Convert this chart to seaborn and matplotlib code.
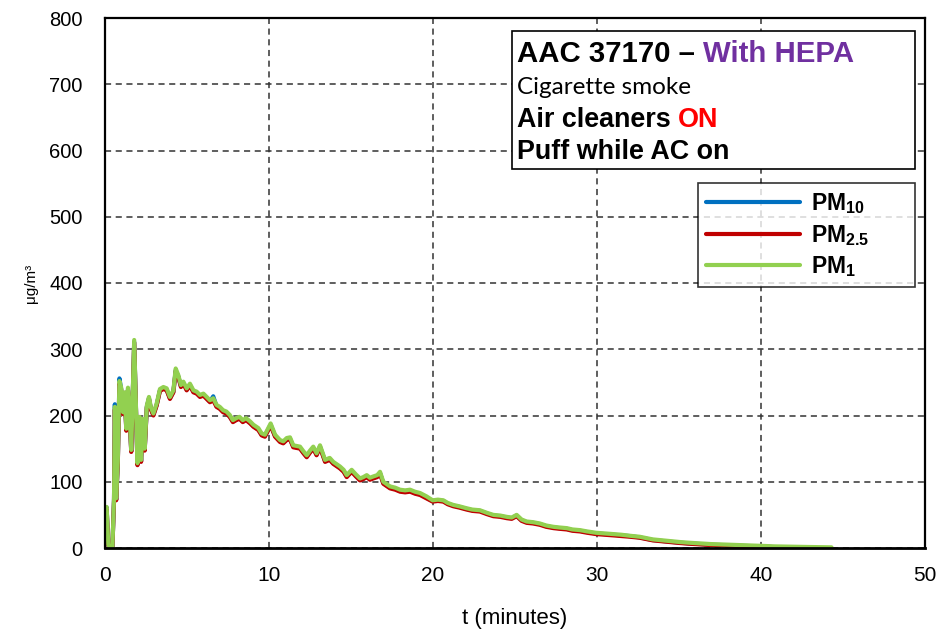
import numpy as np
import pandas as pd
import matplotlib
matplotlib.use("Agg")
import matplotlib.pyplot as plt
from matplotlib.lines import Line2D
from matplotlib.patches import Rectangle
import seaborn as sns

nan = np.nan

# Elapsed time since the first puff (minutes)
t_minutes = [
    0.0, 0.1, 0.2, 0.3, 0.45, 0.55, 0.6, 0.68, 0.78, 0.88,
    0.98, 1.1, 1.2, 1.3, 1.4, 1.5, 1.6, 1.78, 1.88, 1.98,
    2.1, 2.2, 2.3, 2.42, 2.55, 2.68, 2.8, 2.95, 3.15, 3.35,
    3.56, 3.76, 3.96, 4.17, 4.31, 4.47, 4.63, 4.78, 4.98, 5.18,
    5.39, 5.59, 5.79, 6.0, 6.2, 6.4, 6.6, 6.8, 7.0, 7.2,
    7.4, 7.6, 7.8, 8.0, 8.2, 8.4, 8.6, 8.85, 9.05, 9.35,
    9.55, 9.75, 9.96, 10.1, 10.37, 10.67, 10.87, 11.08, 11.28, 11.48,
    11.89, 12.1, 12.3, 12.5, 12.7, 12.9, 13.11, 13.42, 13.7, 13.92,
    14.1, 14.33, 14.55, 14.74, 15.04, 15.3, 15.55, 15.75, 15.96, 16.15,
    16.36, 16.6, 16.77, 16.97, 17.2, 17.38, 17.7, 17.99, 18.3, 18.6,
    18.9, 19.21, 19.6, 19.98, 20.3, 20.63, 20.9, 21.24, 21.6, 22.05,
    22.4, 22.86, 23.3, 23.68, 24.1, 24.5, 24.8, 25.1, 25.4, 25.71,
    26.1, 26.52, 26.9, 27.34, 27.7, 28.15, 28.5, 28.96, 29.4, 29.94,
    30.5, 31.0, 31.5, 32.0, 32.6, 33.0, 33.4, 33.8, 34.25, 34.6,
    35.06, 35.6, 36.3, 36.9, 37.5, 38.1, 38.7, 39.3, 39.9, 40.3,
    40.7, 41.3, 41.9, 42.5, 43.1, 43.7, 44.3,
]

# Mass concentrations (ug/m3)
pm1 = [
    58, 62, 5, 0, 0, 75, 213, 75, 130, 252,
    243, 205, 235, 180, 242, 200, 148, 314, 222, 128,
    198, 133, 195, 150, 215, 228, 212, 203, 218, 240,
    243, 241, 228, 238, 271, 261, 246, 251, 241, 248,
    238, 236, 231, 233, 228, 223, 226, 216, 213, 208,
    206, 201, 193, 196, 198, 193, 196, 191, 186, 181,
    173, 171, 181, 188, 171, 163, 161, 166, 167, 155,
    153, 146, 140, 147, 153, 143, 155, 133, 136, 130,
    127, 123, 118, 110, 118, 111, 105, 107, 110, 106,
    108, 110, 115, 100, 96, 93, 91, 88, 87, 88,
    85, 83, 78, 72, 73, 72, 68, 65, 63, 60,
    58, 57, 53, 50, 49, 47, 46, 50, 43, 40,
    39, 37, 34, 32, 31, 30, 28, 27, 25, 23,
    22, 21, 20, 18.5, 17, 15, 13, 12, 11, 10,
    9, 8, 7, 6, 5.5, 5, 4.5, 4, 3.5, 3,
    2.5, 2.2, 2, 1.7, 1.5, 1.2, 1,
]

pm25 = [
    56, 60, 4, 0, 0, 72, 209, 72, 127, 248,
    240, 202, 232, 177, 238, 197, 145, 310, 218, 125,
    195, 130, 192, 147, 212, 225, 209, 200, 215, 237,
    240, 238, 225, 235, 267, 258, 243, 248, 238, 245,
    235, 233, 228, 230, 225, 220, 223, 213, 210, 205,
    203, 198, 190, 193, 195, 190, 193, 188, 183, 178,
    170, 168, 178, 185, 168, 160, 158, 163, 164, 152,
    150, 143, 137, 144, 150, 140, 152, 130, 133, 127,
    124, 120, 115, 107, 115, 108, 102, 104, 107, 103,
    105, 107, 112, 97, 93, 90, 88, 85, 84, 85,
    82, 80, 75, 70, 71, 70, 66, 63, 61, 58,
    56, 55, 51, 48, 47, 45, 44, 48, 41, 38,
    37, 35, 32, 30, 29, 28, 26, 25, 23, 21,
    20, 19, 18, 17, 15.5, 13.5, 11.5, 10.5, 9.5, 8.5,
    7.5, 6.5, 5.5, 4.5, 4, 3.5, 3, 2.5, 2, 1.5,
    1.2, 0.8, 0.5, nan, nan, nan, nan,
]

pm10 = [
    57, 61, 4, 0, 0, 73, 217, 73, 128, 256,
    241, 203, 233, 178, 239, 198, 146, 311, 219, 126,
    196, 131, 193, 148, 213, 226, 210, 201, 216, 238,
    241, 239, 226, 236, 268, 259, 244, 249, 239, 246,
    236, 234, 229, 231, 226, 221, 229, 214, 211, 206,
    204, 199, 191, 194, 196, 191, 194, 189, 184, 179,
    171, 169, 179, 186, 169, 161, 159, 164, 165, 153,
    151, 144, 138, 145, 151, 141, 153, 131, 134, 128,
    125, 121, 116, 108, 116, 109, 103, 105, 108, 104,
    106, 108, 113, 98, 94, 91, 89, 86, 85, 86,
    83, 81, 76, 71, 72, 71, 67, 64, 62, 59,
    57, 56, 52, 49, 48, 46, 45, 49, 42, 39,
    38, 36, 33, 31, 30, 29, 27, 26, 24, 22,
    21, 20, 19, 18, 16, 14, 12, 11, 10, 9,
    8, 7, 6, 5, 4.5, 4, 3.5, 3, 2.5, 2,
    1.5, 1, nan, nan, nan, nan, nan,
]

series_names = ["PM10", "PM2.5", "PM1"]
series_labels = [r"$\mathbf{PM}_{\mathbf{10}}$",
                 r"$\mathbf{PM}_{\mathbf{2.5}}$",
                 r"$\mathbf{PM}_{\mathbf{1}}$"]
series_colors = ["#0070C0", "#C00000", "#92D050"]

x_ticks = [0, 10, 20, 30, 40, 50]
y_ticks = [0, 100, 200, 300, 400, 500, 600, 700, 800]

sns.set_style("white")
plt.rcParams["font.family"] = ["Liberation Sans", "DejaVu Sans"]
plt.rcParams["text.color"] = "black"
plt.rcParams["axes.labelcolor"] = "black"
plt.rcParams["xtick.color"] = "black"
plt.rcParams["ytick.color"] = "black"
plt.rcParams["mathtext.fontset"] = "custom"
plt.rcParams["mathtext.rm"] = "Liberation Sans"
plt.rcParams["mathtext.bf"] = "Liberation Sans:bold"

df = pd.DataFrame({"t": t_minutes, "PM10": pm10, "PM2.5": pm25, "PM1": pm1})
long_df = df.melt(id_vars="t", var_name="series", value_name="conc").dropna()

fig = plt.figure(figsize=(9.4, 6.36), dpi=100)
ax = fig.add_axes([105 / 940, 1 - 548 / 636, 820 / 940, 530 / 636])

sns.lineplot(data=long_df, x="t", y="conc", hue="series", hue_order=series_names,
             palette=series_colors, estimator=None, errorbar=None, sort=True,
             linewidth=3.0, legend=False, ax=ax)

ax.set_xlim(0, 50)
ax.set_ylim(0, 800)
ax.set_xticks(x_ticks)
ax.set_yticks(y_ticks)
ax.grid(True, linestyle=(0, (4, 3)), color="#333333", linewidth=1.1)
for side in ["left", "right", "top", "bottom"]:
    ax.spines[side].set_visible(True)
    ax.spines[side].set_color("black")
    ax.spines[side].set_linewidth(1.6)
ax.spines["bottom"].set_linewidth(2.0)

ax.tick_params(axis="y", length=0, pad=16, labelsize=14.5, labelcolor="black")
ax.tick_params(axis="x", length=0, pad=13, labelsize=15, labelcolor="black")

ax.set_xlabel("t (minutes)", fontsize=16, color="black")
ax.xaxis.set_label_coords(0.5, -0.113)
ax.set_ylabel("μg/m³", fontsize=11, color="black")
ax.yaxis.set_label_coords(-0.082, 0.5)

# Info box
ax.add_patch(Rectangle((0.496, 0.715), 0.492, 0.261, transform=ax.transAxes,
                       facecolor="white", edgecolor="black", linewidth=1.2, zorder=5))
x0 = 0.502
t1 = ax.text(x0, 0.9175, "AAC 37170 – ", transform=ax.transAxes, fontsize=21.2,
             fontweight="bold", va="baseline", ha="left", color="black", zorder=6)
ax.annotate("With HEPA", xy=(1, 0), xycoords=t1, va="bottom", ha="left",
            fontsize=21.2, fontweight="bold", color="#7030A0", zorder=6)
ax.text(x0, 0.8566, "Cigarette smoke", transform=ax.transAxes, fontsize=17.5,
        family=["Lato", "Liberation Sans"], va="baseline", ha="left",
        color="black", zorder=6)
t3 = ax.text(x0, 0.795, "Air cleaners ", transform=ax.transAxes, fontsize=19.4,
             fontweight="bold", va="baseline", ha="left", color="black", zorder=6)
ax.annotate("ON", xy=(1, 0), xycoords=t3, va="bottom", ha="left",
            fontsize=19.4, fontweight="bold", color="#FF0000", zorder=6)
ax.text(x0, 0.7334, "Puff while AC on", transform=ax.transAxes, fontsize=19.4,
        fontweight="bold", va="baseline", ha="left", color="black", zorder=6)

# Legend
handles = [Line2D([], [], color=c, linewidth=3) for c in series_colors]
leg = ax.legend(handles, series_labels, loc="upper left",
                bbox_to_anchor=(0.723, 0.494, 0.265, 0.195), mode="expand",
                bbox_transform=ax.transAxes, borderaxespad=0, fontsize=16.5,
                handlelength=4.1, handletextpad=0.5, labelspacing=0.3,
                borderpad=0.35, frameon=True, fancybox=False, labelcolor="black")
leg.get_frame().set_edgecolor("black")
leg.get_frame().set_linewidth(1.2)
leg.set_zorder(6)

fig.savefig("out.png", dpi=100)
